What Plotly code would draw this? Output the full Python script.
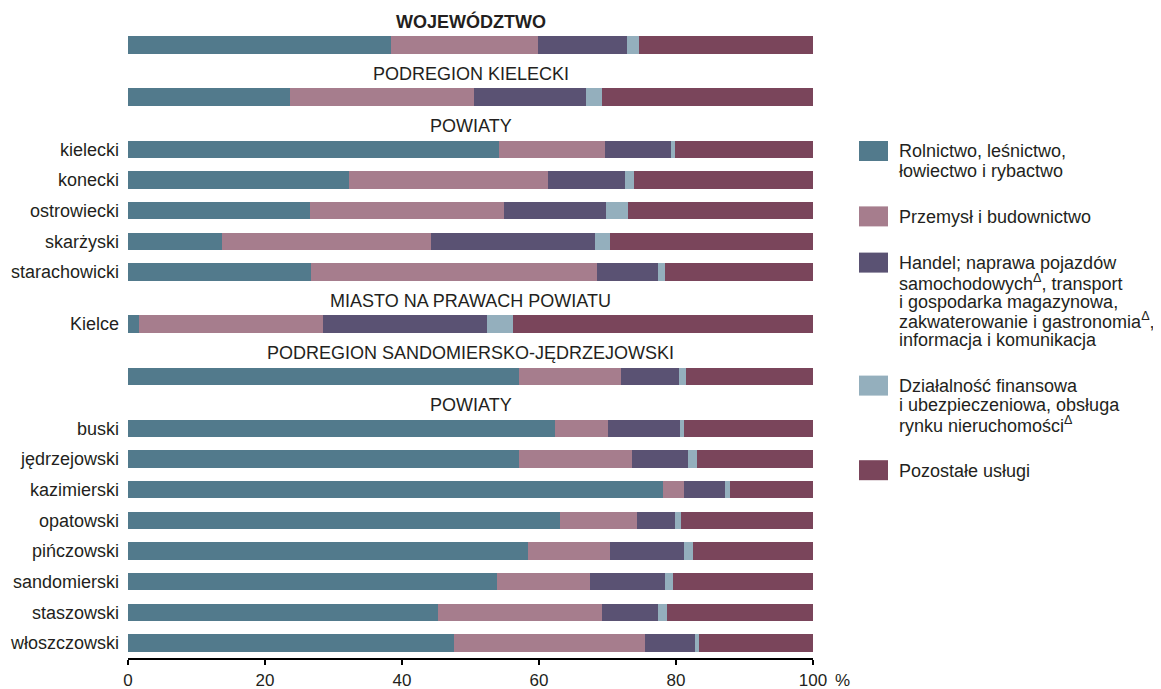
import plotly.graph_objects as go

# ---------------- data ----------------
categories = ["WOJEWÓDZTWO", "PODREGION KIELECKI", "kielecki", "konecki", "ostrowiecki",
              "skarżyski", "starachowicki", "Kielce", "PODREGION SANDOMIERSKO-JĘDRZEJOWSKI",
              "buski", "jędrzejowski", "kazimierski", "opatowski", "pińczowski",
              "sandomierski", "staszowski", "włoszczowski"]
tick_labels = ["", "", "kielecki", "konecki", "ostrowiecki", "skarżyski", "starachowicki",
               "Kielce", "", "buski", "jędrzejowski", "kazimierski", "opatowski",
               "pińczowski", "sandomierski", "staszowski", "włoszczowski"]

rolnictwo = [38.4, 23.7, 54.2, 32.3, 26.6, 13.7, 26.7, 1.6, 57.1, 62.4, 57.1, 78.1, 63.1, 58.4, 53.8, 45.3, 47.6]
przemysl  = [21.5, 26.8, 15.5, 29.0, 28.3, 30.6, 41.8, 26.9, 14.9, 7.7, 16.5, 3.1, 11.2, 12.0, 13.7, 23.9, 27.9]
handel    = [13.0, 16.3, 9.6, 11.2, 14.9, 23.9, 8.8, 23.9, 8.5, 10.5, 8.1, 6.0, 5.6, 10.8, 10.9, 8.2, 7.2]
finanse   = [1.7, 2.4, 0.6, 1.3, 3.2, 2.2, 1.1, 3.8, 1.0, 0.6, 1.3, 0.7, 0.9, 1.3, 1.2, 1.3, 0.7]
pozostale = [25.4, 30.8, 20.1, 26.2, 27.0, 29.6, 21.6, 43.8, 18.5, 18.8, 17.0, 12.1, 19.2, 17.5, 20.4, 21.3, 16.6]

# section headers: (text, index of the row they precede, bold)
section_headers = [("WOJEWÓDZTWO", 0, True), ("PODREGION KIELECKI", 1, False),
                   ("POWIATY", 2, False), ("MIASTO NA PRAWACH POWIATU", 7, False),
                   ("PODREGION SANDOMIERSKO-JĘDRZEJOWSKI", 8, False), ("POWIATY", 9, False)]

series_names = ["Rolnictwo, leśnictwo, łowiectwo i rybactwo",
                "Przemysł i budownictwo",
                "Handel; naprawa pojazdów samochodowych<sup>Δ</sup>, transport i gospodarka magazynowa, zakwaterowanie i gastronomia<sup>Δ</sup>, informacja i komunikacja",
                "Działalność finansowa i ubezpieczeniowa, obsługa rynku nieruchomości<sup>Δ</sup>",
                "Pozostałe usługi"]
legend_lines = [["Rolnictwo, leśnictwo,", "łowiectwo i rybactwo"],
                ["Przemysł i budownictwo"],
                ["Handel; naprawa pojazdów", "samochodowych<sup>Δ</sup>, transport",
                 "i gospodarka magazynowa,", "zakwaterowanie i gastronomia<sup>Δ</sup>,",
                 "informacja i komunikacja"],
                ["Działalność finansowa", "i ubezpieczeniowa, obsługa",
                 "rynku nieruchomości<sup>Δ</sup>"],
                ["Pozostałe usługi"]]
series_values = [rolnictwo, przemysl, handel, finanse, pozostale]
colors = ["#527a8c", "#a67d8d", "#5a5273", "#94afbd", "#7a455b"]

x_ticks = [0, 20, 40, 60, 80, 100]

# ---------------- layout geometry ----------------
OFF = 8                      # page body margin
W, H = 1161 - OFF, 689 - OFF
ML, MR, MT, MB = 120, 348, 0, 31
PW, PH = W - ML - MR, H - MT - MB
FONT = "Liberation Sans, Arial, sans-serif"
TXT = "#231f20"

header_rows = {idx for _, idx, _ in section_headers}
positions = []
pos = 0.0
for i in range(len(categories)):
    if i > 0:
        pos += 1.7 if i in header_rows else 1.0
    positions.append(pos)

labeled = [(p, t) for p, t in zip(positions, tick_labels) if t]

unit_px = 30.67
y_top = positions[0] - (45 - OFF - MT) / unit_px
y_bot = y_top + PH / unit_px

fig = go.Figure()
for name, vals, col in zip(series_names, series_values, colors):
    fig.add_trace(go.Bar(
        y=positions, x=vals, orientation="h", name=name,
        marker=dict(color=col, line=dict(width=0)), width=0.565,
        customdata=categories, hovertemplate="%{customdata}: %{x}%<extra></extra>",
        showlegend=False))

annotations = []
for text, idx, bold in section_headers:
    annotations.append(dict(
        x=50, y=positions[idx] - 0.76, xref="x", yref="y",
        text=f"<b>{text}</b>" if bold else text, showarrow=False,
        font=dict(size=18, color=TXT, family=FONT), xanchor="center", yanchor="middle"))


def px(xs):
    return (xs - OFF - ML) / PW


def py(ys):
    return (MT + PH - (ys - OFF)) / PH


annotations.append(dict(x=px(833), y=py(680), xref="paper", yref="paper",
                        text="%", showarrow=False, xanchor="left", yanchor="middle",
                        font=dict(size=17, color=TXT, family=FONT)))

shapes = []
top = 141.0
line_h = 19.2
for lines, col in zip(legend_lines, colors):
    shapes.append(dict(type="rect", xref="paper", yref="paper",
                       x0=px(859), x1=px(888), y0=py(top), y1=py(top + 20),
                       fillcolor=col, line=dict(width=0)))
    for k, ln in enumerate(lines):
        annotations.append(dict(x=px(897), y=py(top + 10.5 + k * line_h), xref="paper", yref="paper",
                                text=ln, showarrow=False, xanchor="left", yanchor="middle",
                                font=dict(size=18, color=TXT, family=FONT)))
    top += len(lines) * line_h + 27

fig.update_layout(
    width=W, height=H, barmode="stack", bargap=0,
    margin=dict(l=ML, r=MR, t=MT, b=MB, autoexpand=False),
    paper_bgcolor="white", plot_bgcolor="white",
    font=dict(family=FONT, color=TXT, size=18),
    annotations=annotations, shapes=shapes,
    xaxis=dict(range=[0, 100], tickvals=x_ticks, ticktext=[str(t) for t in x_ticks],
               showgrid=False, zeroline=False, showline=True, linecolor="black", linewidth=1.5,
               ticks="outside", ticklen=5, tickwidth=1.5, tickcolor="black",
               tickfont=dict(size=17, color=TXT, family=FONT), ticklabelstandoff=1),
    yaxis=dict(range=[y_bot, y_top], tickvals=[p for p, _ in labeled], ticktext=[t for _, t in labeled],
               showgrid=False, zeroline=False, showline=False, ticks="",
               tickfont=dict(size=18, color=TXT, family=FONT), ticklabelstandoff=8),
)

fig.write_html("out.html")
